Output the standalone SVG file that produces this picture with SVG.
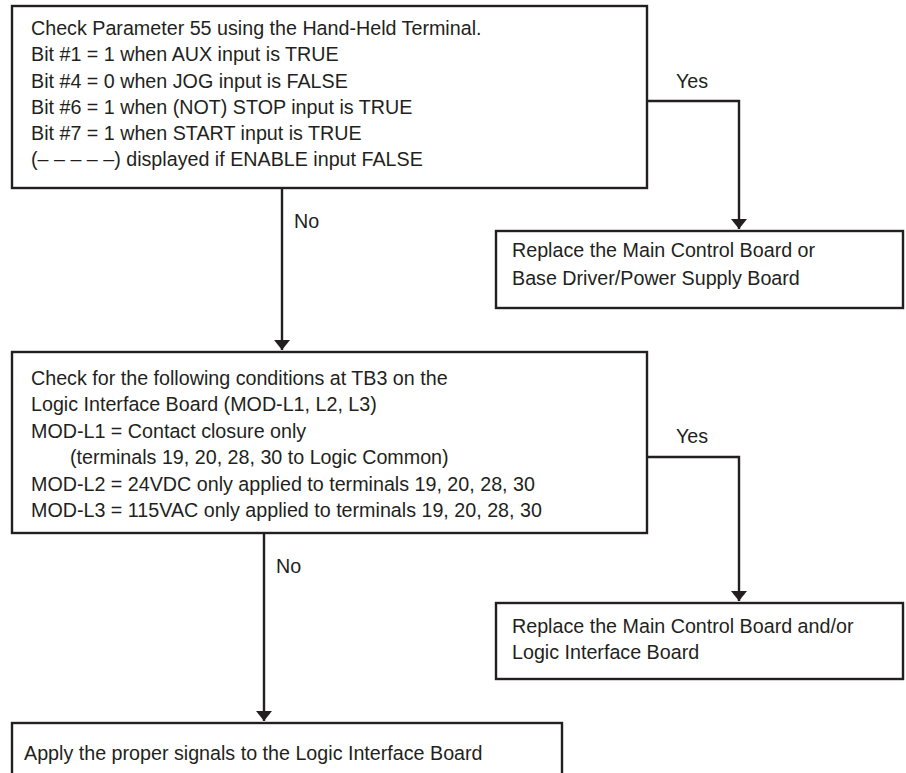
<svg xmlns="http://www.w3.org/2000/svg" width="906" height="773" viewBox="0 0 906 773">
<style>
.box{fill:#fff;stroke:#231f20;stroke-width:2.4}
.ln{fill:none;stroke:#231f20;stroke-width:2.4}
text{font-family:"Liberation Sans",Arial,sans-serif;font-size:19.7px;fill:#231f20}
</style>
<defs>
<marker id="ah" viewBox="0 0 10 16" refX="10" refY="8" markerWidth="10" markerHeight="16" markerUnits="userSpaceOnUse" orient="auto">
<path d="M0,0 L10,8 L0,16 Z" fill="#231f20"/>
</marker>
</defs>
<rect width="906" height="773" fill="#fff"/>
<g id="connectors">
<path class="ln" d="M282,188 V350" marker-end="url(#ah)"/>
<path class="ln" d="M647,101 H739 V229" marker-end="url(#ah)"/>
<path class="ln" d="M264,533 V721" marker-end="url(#ah)"/>
<path class="ln" d="M647,457 H739 V601" marker-end="url(#ah)"/>
<text x="676" y="88">Yes</text>
<text x="294" y="228">No</text>
<text x="676" y="443">Yes</text>
<text x="276" y="573">No</text>
</g>
<g id="n1">
<rect class="box" x="12" y="6" width="635" height="182"/>
<text x="31" y="35">Check Parameter 55 using the Hand-Held Terminal.</text>
<text x="31" y="61">Bit #1 = 1 when AUX input is TRUE</text>
<text x="31" y="87.5">Bit #4 = 0 when JOG input is FALSE</text>
<text x="31" y="113.5">Bit #6 = 1 when (NOT) STOP input is TRUE</text>
<text x="31" y="140">Bit #7 = 1 when START input is TRUE</text>
<text x="31" y="166">(– – – – –) displayed if ENABLE input FALSE</text>
</g>
<g id="n2">
<rect class="box" x="496" y="231" width="407" height="77"/>
<text x="512" y="257">Replace the Main Control Board or</text>
<text x="512" y="285">Base Driver/Power Supply Board</text>
</g>
<g id="n3">
<rect class="box" x="12" y="352" width="635" height="181"/>
<text x="31" y="385">Check for the following conditions at TB3 on the</text>
<text x="31" y="411.4">Logic Interface Board (MOD-L1, L2, L3)</text>
<text x="31" y="437.8">MOD-L1 = Contact closure only</text>
<text x="70" y="464.2">(terminals 19, 20, 28, 30 to Logic Common)</text>
<text x="31" y="490.6">MOD-L2 = 24VDC only applied to terminals 19, 20, 28, 30</text>
<text x="31" y="517">MOD-L3 = 115VAC only applied to terminals 19, 20, 28, 30</text>
</g>
<g id="n4">
<rect class="box" x="496" y="603" width="407" height="76"/>
<text x="512" y="633">Replace the Main Control Board and/or</text>
<text x="512" y="659">Logic Interface Board</text>
</g>
<g id="n5">
<rect class="box" x="12" y="723" width="550" height="80"/>
<text x="24" y="760">Apply the proper signals to the Logic Interface Board</text>
</g>
</svg>
